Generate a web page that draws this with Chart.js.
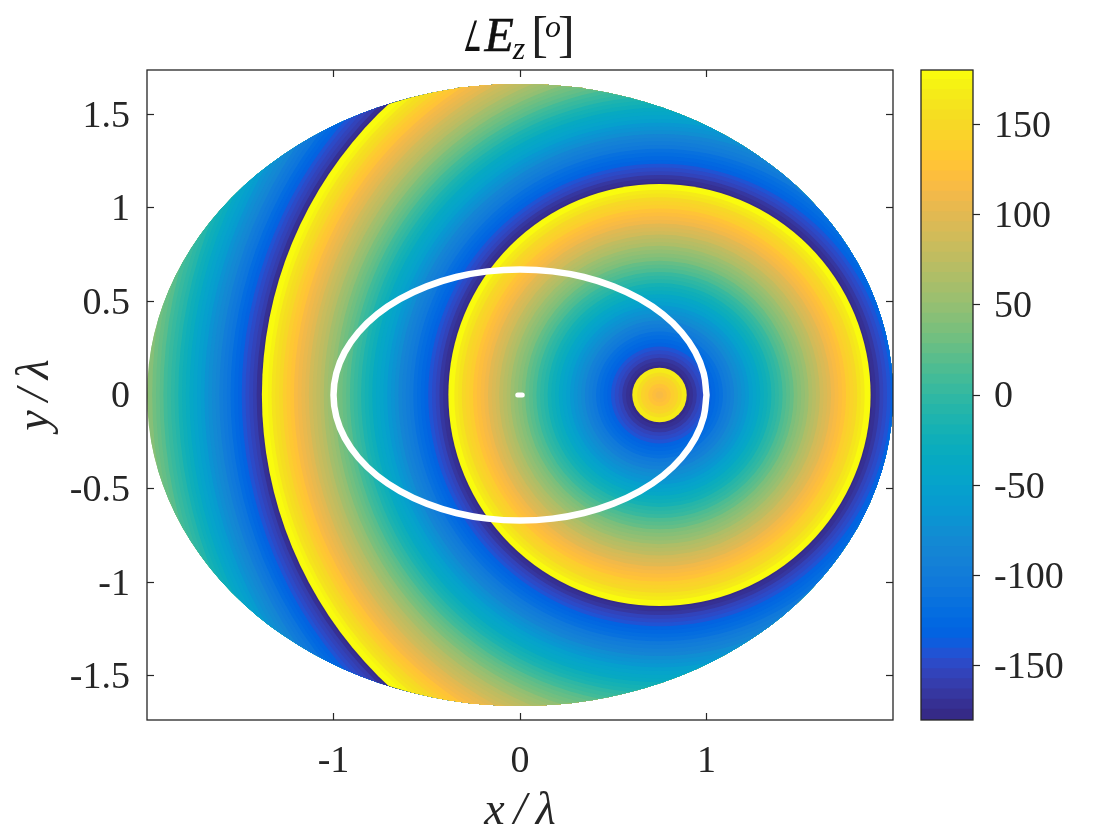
<!DOCTYPE html>
<html>
<head>
<meta charset="utf-8">
<title>Ez phase</title>
<script src="https://cdn.jsdelivr.net/npm/chart.js@4/dist/chart.umd.min.js"></script>
<style>
    body { margin: 0; background: #fff; }
    #wrap { position: relative; width: 1120px; height: 840px; }
    canvas { position: absolute; top: 0; }
    #myChart { left: 0; }
    #myBar { left: 900px; }
    #title {
        position: absolute; left: 147px; width: 746px; top: 6px; height: 56px; text-align: center;
        font-family: "Liberation Serif", serif; color: #111; white-space: nowrap; line-height: 56px;
    }
    #title span, #title i { display: inline-block; vertical-align: baseline; }
    #title .ang { font-size: 42px; font-family: "DejaVu Sans"; transform: scaleX(0.5); margin: 0 -7px 0 -12px; font-weight: 200; }
    #title .e { font-size: 48px; -webkit-text-stroke: 0.5px #111; margin-right: -1px; }
    #title .z { font-size: 32px; position: relative; top: 8px; margin-right: 6px; }
    #title .br { font-size: 50px; font-weight: 400; color: #222; }
    #title .o { font-size: 32px; position: relative; top: -14px; margin: 0 -3px; }
</style>
</head>
<body>
<div id="wrap">
    <canvas id="myChart" width="1120" height="840"></canvas>
    <canvas id="myBar" width="220" height="840"></canvas>
    <div id="title"><span class="ang">∠</span><i class="e">E</i><i class="z">z</i><span class="br">[</span><i class="o">o</i><span class="br">]</span></div>
</div>
<script>
// phase rings around the source, outer radius of each ring in lambda
const ringRadius = [0.02,0.04,0.06,0.08,0.10,0.12,0.146,
    0.16,0.18,0.20,0.22,0.24,0.26,0.28,0.30,0.32,0.34,0.36,0.38,0.40,0.42,0.44,0.46,0.48,0.50,
    0.52,0.54,0.56,0.58,0.60,0.62,0.64,0.66,0.68,0.70,0.72,0.74,0.76,0.78,0.80,0.82,0.84,0.86,
    0.88,0.90,0.92,0.94,0.96,0.98,1.00,1.02,1.04,1.06,1.08,1.10,1.132,
    1.14,1.16,1.18,1.20,1.22,1.24,1.26,1.28,1.30,1.32,1.34,1.36,1.38,1.40,1.42,1.44,1.46,1.48,
    1.50,1.52,1.54,1.56,1.58,1.60,1.62,1.64,1.66,1.68,1.70,1.72,1.74,1.76,1.78,1.80,1.82,1.84,
    1.86,1.88,1.90,1.92,1.94,1.96,1.98,2.00,2.02,2.04,2.06,2.08,2.10,2.132,
    2.14,2.16,2.18,2.20,2.22,2.24,2.26,2.28,2.30,2.32,2.34,2.36,2.38,2.40,2.42,2.44,2.46,2.48,
    2.50,2.52,2.54,2.56,2.58,2.60,2.62,2.64,2.66,2.68,2.70,2.72,2.74,2.76];
const ringPhase = [115,120,127,135,144,153,167,
    -177,-171,-164,-157,-150,-142,-135,-128,-120,-113,-106,-98,-91,-84,-76,-69,-62,-54,
    -47,-40,-32,-25,-18,-10,-3,4,12,19,26,34,41,48,56,63,70,78,
    85,92,100,107,114,122,129,136,144,151,158,166,175,
    -178,-171,-164,-157,-150,-143,-135,-128,-121,-114,-106,-99,-92,-85,-77,-70,-63,-56,
    -48,-41,-34,-27,-19,-12,-5,2,10,17,24,31,39,46,53,60,68,75,
    82,89,97,104,111,118,126,133,140,147,155,162,169,176,
    -177,-170,-163,-156,-148,-141,-134,-127,-119,-112,-105,-98,-90,-83,-76,-69,-61,-54,
    -47,-40,-32,-25,-18,-11,-3,4,11,18,26,33,40,47];
const sourceX = 0.748;
const sourceY = 0;

// region edge (semi axes) and white ellipse
const outerA = 2;
const outerB = 1.66;
const ellipseX = [1,.985,.94,.866,.766,.643,.5,.342,.174,0,-.174,-.342,-.5,-.643,-.766,-.866,-.94,-.985,-1,
    -.985,-.94,-.866,-.766,-.643,-.5,-.342,-.174,0,.174,.342,.5,.643,.766,.866,.94,.985,1];
const ellipseY = [0,.116,.229,.335,.431,.513,.58,.63,.66,.67,.66,.63,.58,.513,.431,.335,.229,.116,0,
    -.116,-.229,-.335,-.431,-.513,-.58,-.63,-.66,-.67,-.66,-.63,-.58,-.513,-.431,-.335,-.229,-.116,0];
const dotX = [-0.012, 0.012];
const dotY = [0, 0];

const xTicks = [-1, 0, 1];
const yTicks = [-1.5, -1, -0.5, 0, 0.5, 1, 1.5];
const barTicks = [-150, -100, -50, 0, 50, 100, 150];

const colours = ['#352a87','#363093','#3637a0','#353dad','#3243ba','#2c4ac7','#2053d4','#0f5cdd',
    '#0363e1','#0268e1','#046de0','#0871de','#0d75dc','#1079da','#127dd8','#1481d6',
    '#1485d4','#1389d3','#108ed2','#0c93d2','#0998d1','#079ccf','#06a0cd','#06a4ca',
    '#06a7c6','#07a9c2','#0aacbe','#0faeb9','#15b1b4','#1db3af','#25b5a9','#2eb7a4',
    '#38b99e','#42bb98','#4dbc92','#59bd8c','#65be86','#71bf80','#7cbf7b','#87bf77',
    '#92bf73','#9cbf6f','#a5be6b','#aebe67','#b7bd64','#c0bc60','#c8bc5d','#d1bb59',
    '#d9ba56','#e1b952','#e9b94e','#f1b94a','#f8bb44','#fdbe3d','#ffc337','#fec832',
    '#fcce2e','#fad32a','#f7d826','#f5de21','#f5e41d','#f5eb18','#f6f313','#f9fb0e'];

const textColour = '#262626';
const serif = 'Liberation Serif';

function colourFor(phase) {
    let i = Math.floor((phase + 180) / 360 * colours.length);
    return colours[Math.min(i, colours.length - 1)];
}

function ringIndex(c) {
    return ringRadius.length - 1 - c.dataIndex;
}

function ringPixels(c) {
    if (c.dataIndex === undefined) return 0;
    const s = c.chart.scales.x;
    return s.getPixelForValue(ringRadius[ringIndex(c)]) - s.getPixelForValue(0);
}

function setTicks(list) {
    return function (axis) {
        axis.ticks = list.map(v => ({ value: v }));
    };
}

// clip the rings to the outer ellipse
const clipRings = {
    id: 'clipRings',
    beforeDatasetDraw(chart, args) {
        if (args.index !== 2) return;
        const c = chart.ctx, x = chart.scales.x, y = chart.scales.y;
        c.save();
        c.beginPath();
        c.ellipse(x.getPixelForValue(0), y.getPixelForValue(0),
            x.getPixelForValue(outerA) - x.getPixelForValue(0),
            y.getPixelForValue(0) - y.getPixelForValue(outerB), 0, 0, Math.PI * 2);
        c.clip();
    },
    afterDatasetDraw(chart, args) {
        if (args.index === 2) chart.ctx.restore();
    }
};

const frame = {
    id: 'frame',
    afterDraw(chart) {
        const a = chart.chartArea, c = chart.ctx;
        c.save();
        c.strokeStyle = textColour;
        c.lineWidth = 1.3;
        c.strokeRect(a.left, a.top, a.right - a.left, a.bottom - a.top);
        c.restore();
    }
};

function sideAxis(pos, list, min, max, size) {
    return {
        type: 'linear', position: pos, min: min, max: max,
        border: { display: false },
        grid: { drawOnChartArea: false, tickLength: -7, tickColor: textColour, tickWidth: 1.2 },
        ticks: { display: false },
        afterBuildTicks: setTicks(list),
        afterFit(s) {
            if (pos === 'top') s.height = size; else s.width = size;
        }
    };
}

const myChart = new Chart(document.getElementById('myChart').getContext('2d'), {
    type: 'scatter',
    data: {
        datasets: [{
            data: ellipseX.map((v, i) => ({ x: v, y: ellipseY[i] })),
            showLine: true, pointRadius: 0, borderColor: '#fff', borderWidth: 6.5,
            borderJoinStyle: 'round', borderCapStyle: 'round', tension: 0.4
        }, {
            data: dotX.map((v, i) => ({ x: v, y: dotY[i] })),
            showLine: true, pointRadius: 0, borderColor: '#fff', borderWidth: 5, borderCapStyle: 'round'
        }, {
            data: ringRadius.map(() => ({ x: sourceX, y: sourceY })),
            showLine: false,
            pointBorderWidth: 0,
            pointRadius: ringPixels,
            pointBackgroundColor: c => c.dataIndex === undefined ? '#fff' : colourFor(ringPhase[ringIndex(c)])
        }]
    },
    plugins: [clipRings, frame],
    options: {
        responsive: false,
        animation: false,
        events: [],
        plugins: { legend: { display: false }, tooltip: { enabled: false } },
        layout: { padding: 0 },
        scales: {
            x: {
                type: 'linear', position: 'bottom', min: -2, max: 2,
                border: { display: false },
                grid: { drawOnChartArea: false, tickLength: -7, tickColor: textColour, tickWidth: 1.2 },
                ticks: { color: textColour, font: { family: serif, size: 38 }, padding: 26, maxRotation: 0, callback: v => String(v) },
                title: { display: true, text: 'x\u2009/\u2009λ', color: textColour, font: { family: serif, size: 46, style: 'italic', lineHeight: 1.2 }, padding: { top: 0, bottom: 0 } },
                afterBuildTicks: setTicks(xTicks),
                afterFit(s) { s.height = 120; }
            },
            y: {
                type: 'linear', position: 'left', min: -1.735, max: 1.735,
                border: { display: false },
                grid: { drawOnChartArea: false, tickLength: -7, tickColor: textColour, tickWidth: 1.2 },
                ticks: { color: textColour, font: { family: serif, size: 38 }, padding: 24, labelOffset: 2.5, callback: v => String(v) },
                title: { display: true, text: 'y\u2009/\u2009λ', color: textColour, font: { family: serif, size: 46, style: 'italic', lineHeight: 1.2 }, padding: { top: 8, bottom: 0 } },
                afterBuildTicks: setTicks(yTicks),
                afterFit(s) { s.width = 147; }
            },
            x2: sideAxis('top', xTicks, -2, 2, 70),
            y2: sideAxis('right', yTicks, -1.735, 1.735, 227)
        }
    }
});

const step = 360 / colours.length;
const myBar = new Chart(document.getElementById('myBar').getContext('2d'), {
    type: 'bar',
    data: {
        labels: ['phase'],
        datasets: colours.map((col, i) => ({
            data: [[-180 + i * step, -180 + (i + 1) * step + 0.4]],
            backgroundColor: col, borderWidth: 0,
            barPercentage: 1, categoryPercentage: 1, grouped: false
        }))
    },
    plugins: [frame],
    options: {
        responsive: false,
        animation: false,
        events: [],
        plugins: { legend: { display: false }, tooltip: { enabled: false } },
        layout: { padding: { left: 21, top: 70, bottom: 120 } },
        scales: {
            x: { display: false },
            y: {
                position: 'right', min: -180, max: 180,
                border: { display: false },
                grid: { drawOnChartArea: false, tickLength: 7, tickColor: textColour, tickWidth: 1.2 },
                ticks: { color: textColour, font: { family: serif, size: 38 }, padding: 14, labelOffset: 2.5, callback: v => String(v) },
                afterBuildTicks: setTicks(barTicks),
                afterFit(s) { s.width = 147; }
            }
        }
    }
});
</script>
</body>
</html>
